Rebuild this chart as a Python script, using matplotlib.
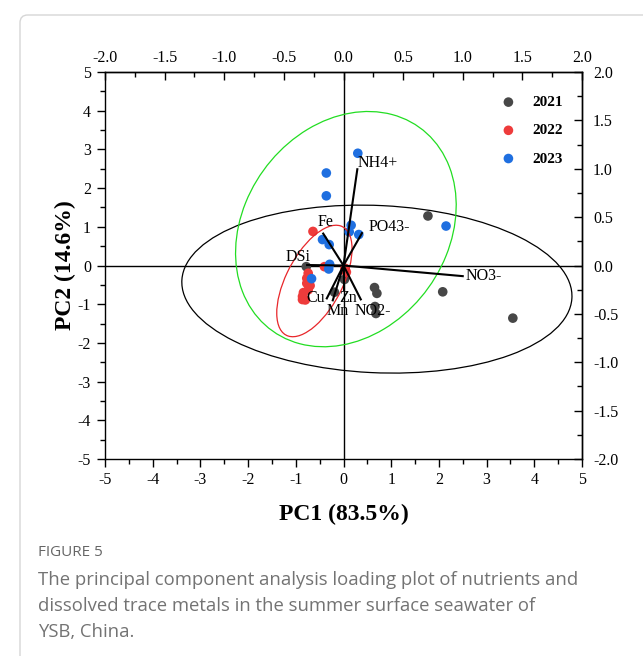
import numpy as np
import matplotlib
matplotlib.use("Agg")
from matplotlib import pyplot as plt
from matplotlib.patches import Ellipse, FancyBboxPatch
from matplotlib.ticker import MultipleLocator, FormatStrFormatter

plt.rcParams['font.family'] = ['Liberation Serif', 'DejaVu Serif']
plt.rcParams['axes.unicode_minus'] = False

# PCA scores (PC1, PC2) per year
pc1_2021 = [1.77, -0.78, 0.02, -0.19, 0.65, 0.70, 2.08, 0.66, 0.68, 3.55]
pc2_2021 = [1.28, -0.03, -0.36, -0.69, -0.57, -0.72, -0.68, -1.06, -1.24, -1.36]
pc1_2022 = [-0.64, -0.40, 0.03, 0.06, -0.74, -0.77, -0.77, -0.70, -0.74, -0.84, -0.86, -0.80, -0.86]
pc2_2022 = [0.88, -0.03, -0.07, -0.17, -0.20, -0.33, -0.46, -0.52, -0.63, -0.70, -0.80, -0.89, -0.88]
pc1_2023 = [0.30, -0.36, -0.36, 0.16, 0.12, 0.32, 2.15, -0.44, -0.30, -0.29, -0.31, -0.67]
pc2_2023 = [2.90, 2.39, 1.80, 1.04, 0.87, 0.80, 1.02, 0.67, 0.54, 0.03, -0.09, -0.34]

years = ['2021', '2022', '2023']
year_colors = ['#474747', '#ee3b3b', '#1f6fe0']

# loadings (top / right axis scale)
variables = ['NH4+', 'PO43-', 'Fe', 'DSi', 'NO3-', 'Cu', 'Mn', 'Zn', 'NO2-']
load1 = [0.116, 0.155, -0.170, -0.305, 1.000, -0.140, -0.090, 0.000, 0.145]
load2 = [0.995, 0.335, 0.330, 0.005, -0.110, -0.340, -0.360, -0.250, -0.350]
label1 = [0.120, 0.210, -0.150, -0.380, 1.020, -0.230, -0.050, 0.040, 0.250]
label2 = [1.060, 0.400, 0.450, 0.090, -0.110, -0.340, -0.470, -0.340, -0.470]
label_ha = ['left', 'left', 'center', 'center', 'left', 'center', 'center', 'center', 'center']

# confidence ellipses: center x, center y, width, height, angle
ell_2021 = (0.70, -0.61, 8.19, 4.32, -3.5)
ell_2022 = (-0.61, -0.40, 3.05, 1.22, 69.0)
ell_2023 = (0.05, 0.94, 6.23, 4.42, 71.9)
ell_colors = ['black', '#e8262a', '#22dd22']

scale = 2.5

fig = plt.figure(figsize=(6.43, 6.56), dpi=100)
ax = fig.add_axes([105 / 643, 197 / 656, 477 / 643, 387 / 656])

frame = FancyBboxPatch((20 / 643, -0.1), 1.2, (656 - 15) / 656 + 0.1,
                       boxstyle="round,pad=0,rounding_size=0.012",
                       transform=fig.transFigure, facecolor='none',
                       edgecolor='#d6d6d6', linewidth=1.0)
fig.patches.append(frame)

ax.axhline(0, color='black', lw=1.0, zorder=1)
ax.axvline(0, color='black', lw=1.0, zorder=1)

xs = [pc1_2021, pc1_2022, pc1_2023]
ys = [pc2_2021, pc2_2022, pc2_2023]
for x, y, c, lab in zip(xs, ys, year_colors, years):
    ax.scatter(x, y, s=48, color=c, edgecolors='none', label=lab, zorder=2)

for e, c in zip([ell_2021, ell_2022, ell_2023], ell_colors):
    ax.add_patch(Ellipse((e[0], e[1]), e[2], e[3], angle=e[4], fill=False,
                         edgecolor=c, lw=0.9, zorder=3))

for v, a, b, lx, ly, ha in zip(variables, load1, load2, label1, label2, label_ha):
    ax.plot([0, a * scale], [0, b * scale], color='black', lw=1.5, zorder=4)
    ax.text(lx * scale, ly * scale, v, ha=ha, va='center', fontsize=11.5, zorder=5)

ax.set_xlim(-5, 5)
ax.set_ylim(-5, 5)
ax.xaxis.set_major_locator(MultipleLocator(1))
ax.xaxis.set_minor_locator(MultipleLocator(0.5))
ax.yaxis.set_major_locator(MultipleLocator(1))
ax.yaxis.set_minor_locator(MultipleLocator(0.5))
ax.tick_params(which='both', direction='out', labelsize=11.5, width=1.0)
ax.tick_params(which='major', length=6)
ax.tick_params(which='minor', length=3.5)
ax.tick_params(axis='x', pad=3)
ax.tick_params(axis='y', pad=4)
for sp in ax.spines.values():
    sp.set_linewidth(1.0)

secx = ax.secondary_xaxis('top', functions=(lambda x: x / scale, lambda x: x * scale))
secy = ax.secondary_yaxis('right', functions=(lambda y: y / scale, lambda y: y * scale))
for sec in (secx, secy):
    sec_ax = sec.xaxis if sec is secx else sec.yaxis
    sec_ax.set_major_locator(MultipleLocator(0.5))
    sec_ax.set_minor_locator(MultipleLocator(0.25))
    sec_ax.set_major_formatter(FormatStrFormatter('%.1f'))
    sec.tick_params(which='both', direction='in', labelsize=11.5, width=1.0)
    sec.tick_params(which='major', length=6)
    sec.tick_params(which='minor', length=3.5)
    sec.spines[:].set_linewidth(1.0)
secx.tick_params(pad=4)
secy.tick_params(pad=8)

ax.set_xlabel('PC1 (83.5%)', fontsize=17, fontweight='bold', labelpad=12)
ax.set_ylabel('PC2 (14.6%)', fontsize=17, fontweight='bold', labelpad=1)

leg = ax.legend(loc='upper right', bbox_to_anchor=(0.99, 0.975), frameon=False,
                handletextpad=0.6, labelspacing=0.95, markerscale=1.0,
                prop={'weight': 'bold', 'size': 11})

fig.text(38 / 643, (656 - 552) / 656, 'FIGURE 5', family=['Open Sans', 'DejaVu Sans'],
         fontsize=11, color='#666666', va='center')
caption = ['The principal component analysis loading plot of nutrients and',
           'dissolved trace metals in the summer surface seawater of',
           'YSB, China.']
for i, line in enumerate(caption):
    fig.text(38 / 643, (656 - 580 - 26 * i) / 656, line, family=['Open Sans', 'DejaVu Sans'],
             fontsize=13.3, color='#737373', va='center')

plt.savefig('out.png', dpi=100)
